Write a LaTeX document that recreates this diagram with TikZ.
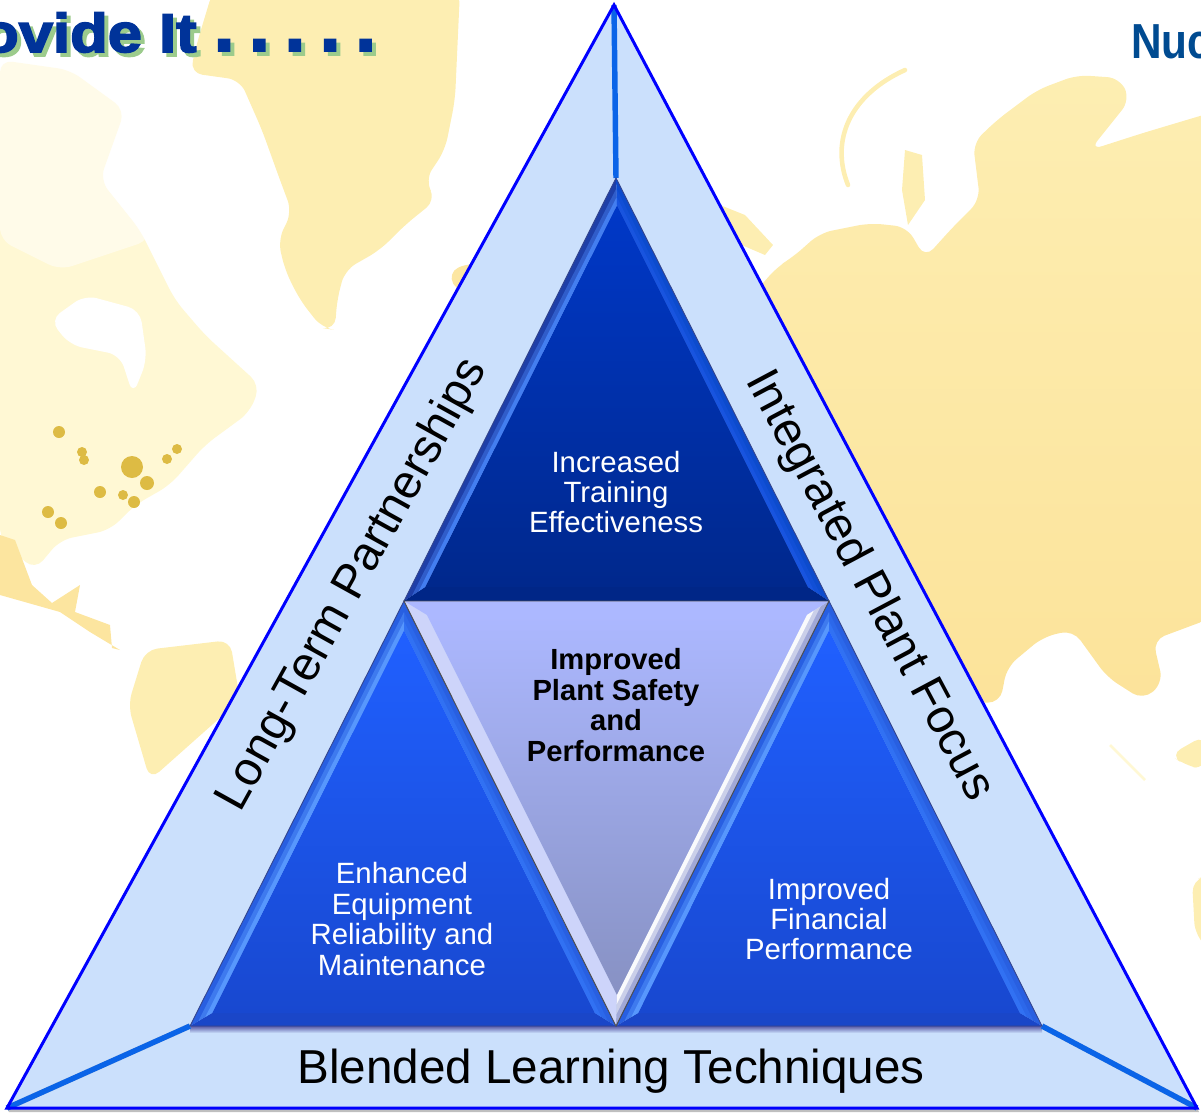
\documentclass[tikz,border=0pt]{standalone}
\usepackage{fontspec}
\usepackage{tikz}
\usetikzlibrary{calc}
\setmainfont{Liberation Sans}
\newfontfamily\headfont[FakeStretch=1.13, BoldFeatures={FakeBold=3}]{Liberation Sans}
\newfontfamily\dotfont[BoldFeatures={FakeBold=2}]{Liberation Sans}
\newfontfamily\logofont[FakeStretch=0.86]{Liberation Sans}

\definecolor{mapyellow}{HTML}{FDEEB2}
\definecolor{mapdeep}{HTML}{FCE39A}
\definecolor{mappale}{HTML}{FFF8D4}
\definecolor{mapdot}{HTML}{DDBB44}
\definecolor{panel}{HTML}{CBE0FC}
\definecolor{spoke}{HTML}{0A64E8}
\definecolor{headblue}{HTML}{003399}
\definecolor{headshade}{HTML}{9CCB8C}
\definecolor{logoblue}{HTML}{004B91}
\definecolor{topleft}{HTML}{1E3FA8}
\definecolor{topright}{HTML}{0C4BCD}
\definecolor{topbase}{HTML}{002687}
\definecolor{tophi}{HTML}{4682F5}
\definecolor{tophib}{HTML}{1955E1}
\definecolor{topup}{HTML}{0038C8}
\definecolor{topdown}{HTML}{00288C}
\definecolor{lowside}{HTML}{285FE1}
\definecolor{lowbase}{HTML}{1A46C8}
\definecolor{lowhi}{HTML}{5A9BFF}
\definecolor{lowhib}{HTML}{3273F5}
\definecolor{lowup}{HTML}{2060FF}
\definecolor{lowdown}{HTML}{1848D0}
\definecolor{midleft}{HTML}{CDD4FA}
\definecolor{midright}{HTML}{A0A8D7}
\definecolor{midup}{HTML}{ACB8FF}
\definecolor{middown}{HTML}{8791C3}
\definecolor{edgeblue}{HTML}{34448C}

\tikzset{
  coast/.style={rounded corners=7pt},
  spokeline/.style={draw=spoke, line width=3.1pt},
  spokeshade/.style={draw=black!22, line width=3.1pt, shift={(2,3)}},
  labelwhite/.style={text=white, align=center, font=\fontsize{16.7}{17.3}\selectfont},
  labelblack/.style={text=black, align=center, font=\bfseries\fontsize{16.6}{17.3}\selectfont},
  sidelabel/.style={text=black, font=\fontsize{27.1}{30}\selectfont},
  headtext/.style={anchor=base east, inner sep=0pt, font=\headfont\bfseries\fontsize{31}{31}\selectfont},
  headdots/.style={anchor=base west, inner sep=0pt, font=\dotfont\bfseries\fontsize{44}{44}\selectfont},
}

% outer corners 1 (tip), 2, 3, inner corners 4, 5, 6, then facet colours
\newcommand{\bevtri}[9]{
  \fill[#7] (#1) -- (#2) -- (#5) -- (#4) -- cycle;
  \fill[#8] (#1) -- (#3) -- (#6) -- (#4) -- cycle;
  \fill[#9] (#2) -- (#3) -- (#6) -- (#5) -- cycle;
}
\newcommand{\bevhi}[5]{
  \fill[#5, opacity=0.45] (#3) -- (#4) -- ($(#4)!0.62!(#2)$) -- ($(#3)!0.62!(#1)$) -- cycle;
  \fill[#5, opacity=0.9] (#3) -- (#4) -- ($(#4)!0.3!(#2)$) -- ($(#3)!0.3!(#1)$) -- cycle;
}
\newcommand{\dotrow}{\frenchspacing\spaceskip=7.9pt . . . . .}

\begin{document}
\begin{tikzpicture}[x=0.02cm, y=-0.02cm, line join=miter]
\useasboundingbox (0,0) rectangle (1201,1117);
\clip (0,0) rectangle (1201,1117);

% map behind the triangle
\fill[mappale, coast] (0,60) -- (70,70) -- (125,110) -- (100,180) -- (140,230) -- (175,300) -- (205,335) -- (260,385) -- (250,412) -- (205,445) -- (170,485) -- (135,505) -- (110,530) -- (60,540) -- (35,570) -- (0,540) -- cycle;
\fill[white, opacity=0.5, coast] (0,55) -- (130,55) -- (150,240) -- (60,270) -- (0,240) -- cycle;
\fill[white, coast] (50,320) -- (85,295) -- (140,310) -- (147,360) -- (133,395) -- (120,355) -- (70,345) -- cycle;
\fill[white, coast] (170,270) -- (200,240) -- (225,290) -- (190,320) -- cycle;
\fill[mapyellow, coast] (213,-10) -- (197,43) -- (190,73) -- (240,80) -- (262,130) -- (280,180) -- (292,212) -- (278,240) -- (285,270) -- (300,300) -- (322,328) -- (335,330) -- (337,300) -- (345,270) -- (380,250) -- (405,225) -- (436,200) -- (425,180) -- (445,150) -- (455,100) -- (460,-10) -- cycle;
\fill[mapdeep!70!mapyellow, coast] (447,273) -- (470,262) -- (500,270) -- (460,295) -- cycle;
\fill[mapdeep!80!mapyellow] (0,535) -- (15,540) -- (32,585) -- (52,603) -- (80,585) -- (75,612) -- (110,625) -- (112,648) -- (120,650) -- (90,632) -- (60,612) -- (0,595) -- cycle;
\fill[mapyellow, coast] (145,650) -- (230,640) -- (240,700) -- (150,780) -- (128,705) -- cycle;
\shade[top color=mapyellow, bottom color=mapdeep, coast] (700,320) -- (757,290) -- (777,267) -- (793,257) -- (820,233) -- (870,223) -- (907,227) -- (925,258) -- (953,227) -- (980,200) -- (973,143) -- (997,120) -- (1037,90) -- (1077,75) -- (1120,78) -- (1130,100) -- (1090,150) -- (1143,133) -- (1220,110) -- (1220,615) -- (1153,640) -- (1163,683) -- (1143,700) -- (1107,677) -- (1073,630) -- (1043,637) -- (1007,667) -- (1000,703) -- (900,700) -- cycle;
\fill[mapyellow] (720,205) -- (745,215) -- (773,245) -- (765,255) -- (730,240) -- cycle;
\fill[mapyellow] (905,150) -- (922,155) -- (925,200) -- (908,225) -- (902,190) -- cycle;
\draw[mapyellow, line width=2.6pt, line cap=round] (905,70) .. controls (850,95) and (830,140) .. (848,185);
\draw[mappale, line width=1.6pt] (1110,745) -- (1145,780);
\fill[mapyellow, coast] (1170,755) -- (1205,735) -- (1205,770) -- (1185,765) -- cycle;
\fill[mapyellow, coast] (1192,880) -- (1210,875) -- (1210,950) -- (1195,935) -- cycle;
\foreach \mx/\my/\mr in {59/432/6, 82/452/5, 84/460/5, 132/467/11, 147/483/7, 100/492/6, 123/495/5, 134/502/6, 48/512/6, 61/523/6, 167/459/5, 177/449/5}
  \fill[mapdot] (\mx,\my) circle[radius=\mr];

% header and logo, both cut off by the page
\node[headtext, text=headshade] (headshadow) at (201,56) {ovide It};
\node[headdots, text=headshade] (dotshadow) at (217,55) {\dotrow};
\node[headtext, text=headblue] (headline) at (197,52) {ovide It};
\node[headdots, text=headblue] (headrow) at (213,51) {\dotrow};
\fill[white] (1132,0) rectangle (1201,71);
\node[anchor=base west, inner sep=0pt, text=logoblue, font=\logofont\bfseries\fontsize{28}{28}\selectfont] (logo) at (1131,58) {Nuc};

% outer triangle
\coordinate (tip) at (614,5);
\coordinate (lcorner) at (7,1108);
\coordinate (rcorner) at (1197,1108);
\fill[black!25] (9,1112) -- (1199,1112) -- (1197,1108) -- (7,1108) -- cycle;
\draw[panel, fill=panel] (tip) -- (lcorner) -- (rcorner) -- cycle;

% corners of the three blue triangles and the middle one
\coordinate (Ta) at (616,178);
\coordinate (Tb) at (404,601);
\coordinate (Tc) at (829,601);
\coordinate (ta) at (617,205);
\coordinate (tb) at (425,587);
\coordinate (tc) at (808,587);
\coordinate (La) at (404,601);
\coordinate (Lb) at (190,1026);
\coordinate (Lc) at (616,1026);
\coordinate (la) at (404,630);
\coordinate (lb) at (212,1013);
\coordinate (lc) at (595,1013);
\coordinate (Ra) at (829,601);
\coordinate (Rb) at (616,1026);
\coordinate (Rc) at (1042,1026);
\coordinate (ra) at (829,630);
\coordinate (rb) at (638,1013);
\coordinate (rc) at (1020,1013);
\coordinate (Ma) at (616,1026);
\coordinate (mid) at (617,995);
\coordinate (mb) at (427,615);
\coordinate (mc) at (807,615);

\shade[top color=gray!70!blue, bottom color=panel] (190,1026) rectangle (1042,1033);
\draw[spokeshade] (lcorner) -- (Lb);
\draw[spokeshade] (rcorner) -- (Rc);
\draw[spokeline] (tip) -- (Ta);
\draw[spokeline] (lcorner) -- (Lb);
\draw[spokeline] (rcorner) -- (Rc);
\draw[blue, line width=1.7pt, line join=miter] (tip) -- (lcorner) -- (rcorner) -- cycle;

% top triangle
\bevtri{Ta}{Tb}{Tc}{ta}{tb}{tc}{topleft}{topright}{topbase}
\shade[top color=topup, bottom color=topdown] (ta) -- (tb) -- (tc) -- cycle;
\bevhi{Ta}{Tb}{ta}{tb}{tophi}
\bevhi{Ta}{Tc}{ta}{tc}{tophib}
\draw[edgeblue, line width=0.5pt] (Tb) -- (Ta) -- (Tc);

% left triangle
\bevtri{La}{Lb}{Lc}{la}{lb}{lc}{lowside}{lowside}{lowbase}
\shade[top color=lowup, bottom color=lowdown] (la) -- (lb) -- (lc) -- cycle;
\bevhi{La}{Lb}{la}{lb}{lowhi}
\bevhi{La}{Lc}{la}{lc}{lowhib}
\draw[edgeblue, line width=0.5pt] (Lb) -- (La) -- (Lc) -- cycle;

% right triangle
\bevtri{Ra}{Rb}{Rc}{ra}{rb}{rc}{lowside}{lowside}{lowbase}
\shade[top color=lowup, bottom color=lowdown] (ra) -- (rb) -- (rc) -- cycle;
\bevhi{Ra}{Rb}{ra}{rb}{lowhi}
\bevhi{Ra}{Rc}{ra}{rc}{lowhib}
\draw[edgeblue, line width=0.5pt] (Rb) -- (Ra) -- (Rc) -- cycle;

% middle triangle, tip down
\bevtri{Ma}{La}{Ra}{mid}{mb}{mc}{midleft}{midright}{midup}
\shade[top color=midup, bottom color=middown] (mid) -- (mb) -- (mc) -- cycle;
\bevhi{Ma}{Ra}{mid}{mc}{white}
\draw[black!70, line width=0.5pt] (La) -- (Ra) -- (Ma) -- cycle;

% labels
\node[labelwhite] (training) at (616,492) {Increased\\Training\\Effectiveness};
\node[labelwhite] (equipment) at (402,919) {Enhanced\\Equipment\\Reliability and\\Maintenance};
\node[labelwhite] (financial) at (829,919) {Improved\\Financial\\Performance};
\node[labelblack] (safety) at (616,705) {Improved\\Plant Safety\\and\\Performance};
\node[sidelabel, rotate=61] (partners) at (353,585) {Long-Term Partnerships};
\node[sidelabel, rotate=-62] (focus) at (869,586) {Integrated Plant Focus};
\node[sidelabel] (blended) at (611,1071) {Blended Learning Techniques};
\end{tikzpicture}
\end{document}
